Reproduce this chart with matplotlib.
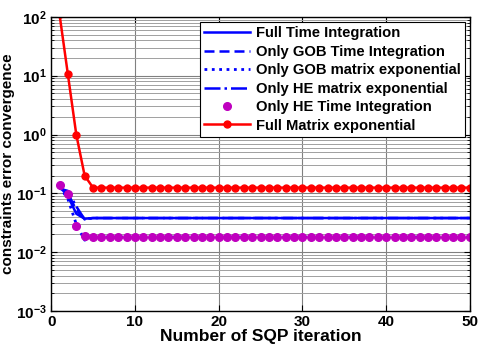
import matplotlib
matplotlib.use("Agg")
import matplotlib.pyplot as plt
from matplotlib.ticker import LogLocator, FixedLocator

plt.rcParams['font.family'] = ['Liberation Sans', 'DejaVu Sans']
plt.rcParams['font.weight'] = 'bold'
plt.rcParams['mathtext.fontset'] = 'custom'
plt.rcParams['mathtext.rm'] = 'Liberation Sans:bold'
plt.rcParams['mathtext.bf'] = 'Liberation Sans:bold'
plt.rcParams['mathtext.it'] = 'Liberation Sans:bold'

# SQP iterations
iterations = list(range(1, 51))

full_time_integration = [0.13, 0.09, 0.045, 0.037] + [0.038] * 46
only_gob_time_integration = [0.13, 0.10, 0.052, 0.037] + [0.038] * 46
only_gob_matrix_exponential = [0.13, 0.08, 0.030, 0.016] + [0.018] * 46
only_he_matrix_exponential = [0.12, 0.11, 0.060, 0.036] + [0.038] * 46
only_he_time_integration = [0.14, 0.098, 0.028, 0.019] + [0.018] * 46
full_matrix_exponential = [110.0, 10.5, 1.0, 0.20] + [0.125] * 46

xticks = [0, 10, 20, 30, 40, 50]
yticks = [1e-3, 1e-2, 1e-1, 1e0, 1e1, 1e2]
ytick_labels = [r'$10^{-3}$', r'$10^{-2}$', r'$10^{-1}$', r'$10^{0}$', r'$10^{1}$', r'$10^{2}$']

fig = plt.figure(figsize=(4.78, 3.51), dpi=100)
ax = fig.add_axes([0.107, 0.114, 0.876, 0.838])

blue = '#0000ff'
ax.semilogy(iterations, full_time_integration, '-', color=blue, lw=1.8,
            label='Full Time Integration')
ax.semilogy(iterations, only_gob_time_integration, '--', color=blue, lw=1.8,
            dashes=(4, 2), label='Only GOB Time Integration')
ax.semilogy(iterations, only_gob_matrix_exponential, ':', color=blue, lw=2.0,
            label='Only GOB matrix exponential')
ax.semilogy(iterations, only_he_matrix_exponential, '-.', color=blue, lw=1.8,
            label='Only HE matrix exponential')
ax.semilogy(iterations, only_he_time_integration, 'o', color='#bf00bf',
            ms=5.5, mec='#bf00bf', label='Only HE Time Integration')
ax.semilogy(iterations, full_matrix_exponential, '-o', color='#ff0000',
            lw=1.8, ms=5, label='Full Matrix exponential')

ax.set_xlim(0, 50)
ax.set_ylim(1e-3, 1e2)
ax.xaxis.set_major_locator(FixedLocator(xticks))
ax.set_xticklabels([str(t) for t in xticks], fontsize=11, fontweight='bold')
ax.yaxis.set_major_locator(FixedLocator(yticks))
ax.set_yticklabels(ytick_labels, fontsize=11)
ax.yaxis.set_minor_locator(LogLocator(base=10, subs=range(2, 10), numticks=20))

ax.grid(True, which='major', color='#808080', lw=0.8)
ax.grid(True, which='minor', axis='y', color='#a0a0a0', lw=0.7)
ax.tick_params(which='both', direction='in', top=True, right=True)
ax.tick_params(which='major', length=4, pad=3)
ax.tick_params(which='minor', length=2)
for s in ax.spines.values():
    s.set_linewidth(1.0)

ax.set_xlabel('Number of SQP iteration', fontsize=12.5, fontweight='bold', labelpad=0)
ax.set_ylabel('constraints error convergence', fontsize=11, fontweight='bold', labelpad=1)

leg = ax.legend(loc='upper right', fontsize=10.6, frameon=True, fancybox=False,
                edgecolor='black', framealpha=1, handlelength=3.1,
                borderpad=0.3, labelspacing=0.3, handletextpad=0.4,
                borderaxespad=0.35)
leg.get_frame().set_linewidth(0.8)
for t in leg.get_texts():
    t.set_fontweight('bold')

fig.savefig('out.png', dpi=100)
